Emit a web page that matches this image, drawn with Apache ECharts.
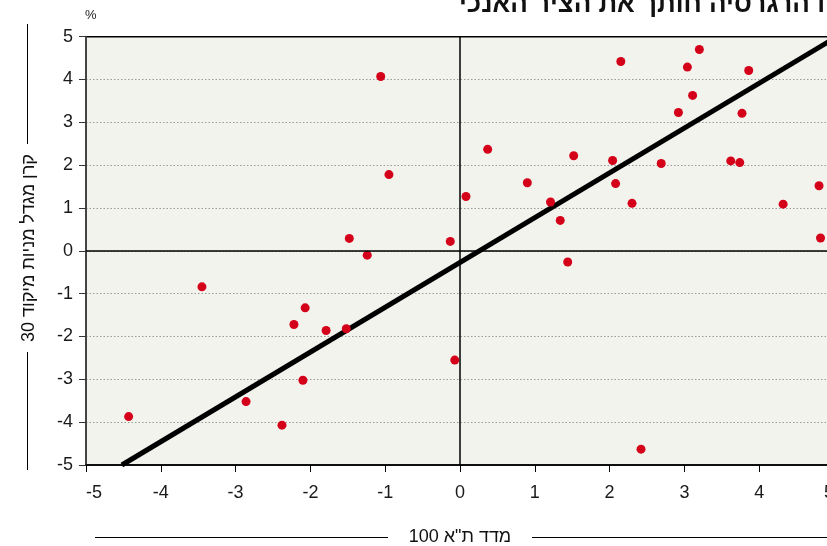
<!DOCTYPE html>
<html>
<head>
<meta charset="utf-8">
<script src="https://cdn.jsdelivr.net/npm/echarts@6/dist/echarts.min.js"></script>
<style>
html,body{margin:0;padding:0;background:#fff;}
#c{width:827px;height:546px;}
</style>
</head>
<body>
<div id="c"></div>
<script>
// Data
const indexTA100 = [-4.43,-3.45,-2.86,-2.38,-2.22,-2.07,-2.10,-1.79,-1.52,-1.48,-1.24,-1.06,-0.95,-0.13,-0.07,0.08,0.37,0.90,1.21,1.34,1.44,1.52,2.04,2.08,2.15,2.30,2.42,2.69,2.92,3.04,3.11,3.20,3.62,3.74,3.77,3.86,4.32,4.80,4.82];
const fundReturn = [-3.87,-0.84,-3.52,-4.07,-1.72,-1.33,-3.02,-1.86,-1.82,0.29,-0.10,4.07,1.78,0.22,-2.55,1.27,2.37,1.59,1.14,0.71,-0.26,2.22,2.11,1.57,4.42,1.11,-4.63,2.04,3.23,4.29,3.63,4.70,2.10,2.06,3.21,4.21,1.09,1.52,0.30];
const regressionX = [-4.52, 5];
const regressionY = [-5, 4.96];
const axisTicks = [-5,-4,-3,-2,-1,0,1,2,3,4,5];

const titleText = 'קו הרגרסיה חותך את הציר האנכי';
const xTitle = '100 מדד ת"א';
const yTitle = '30 קרן מגדל מניות מיקוד';

const scatterData = indexTA100.map((x, i) => [x, fundReturn[i]]);
const lineData = regressionX.map((x, i) => [x, regressionY[i]]);

const chart = echarts.init(document.getElementById('c'), null, {renderer: 'canvas'});
const labelFont = {fontFamily: 'Liberation Sans', fontSize: 18, color: '#1a1a1a'};

chart.setOption({
  animation: false,
  backgroundColor: '#ffffff',
  grid: {
    left: 86, top: 36.7, bottom: 81, right: -7,
    outerBoundsMode: 'none', containLabel: false,
    show: true, backgroundColor: '#f3f3ee', borderColor: '#000', borderWidth: 1.5
  },
  xAxis: {
    type: 'value', min: axisTicks[0], max: axisTicks[axisTicks.length-1], interval: 1,
    axisLine: {onZero: false, lineStyle: {color: '#000', width: 1.5}},
    axisTick: {show: true, length: 7, lineStyle: {color: '#000', width: 1}},
    axisLabel: Object.assign({margin: 19, alignMinLabel: 'left', alignMaxLabel: 'right'}, labelFont),
    splitLine: {show: false}
  },
  yAxis: {
    type: 'value', min: axisTicks[0], max: axisTicks[axisTicks.length-1], interval: 1,
    axisLine: {onZero: false, lineStyle: {color: '#444', width: 2}},
    axisTick: {show: true, length: 7, lineStyle: {color: '#333', width: 1}},
    axisLabel: Object.assign({margin: 13}, labelFont),
    splitLine: {show: true, showMinLine: false, showMaxLine: false, lineStyle: {color: '#9a9a9a', width: 1, type: [1.5, 2]}}
  },
  series: [
    {
      type: 'line', data: [], silent: true, z: 1,
      markLine: {
        silent: true, symbol: 'none', label: {show: false},
        lineStyle: {color: '#000', width: 1.5, type: 'solid'},
        data: [{xAxis: 0}, {yAxis: 0}]
      }
    },
    {
      type: 'line', data: lineData, symbol: 'none', z: 2, silent: true,
      lineStyle: {color: '#000', width: 5}
    },
    {
      type: 'scatter', data: scatterData, symbol: 'circle', symbolSize: 9, z: 3,
      itemStyle: {color: '#d4001a', opacity: 1}
    }
  ],
  graphic: [
    {type: 'text', x: 459, y: 18, style: {text: titleText, font: 'bold 26px "Liberation Sans Narrow", "Liberation Sans", sans-serif', fill: '#111', align: 'left', verticalAlign: 'bottom'}},
    {type: 'text', left: 85, top: 9, style: {text: '%', font: '13px "Liberation Sans", sans-serif', fill: '#222'}},
    {type: 'text', x: 460, y: 537, style: {text: xTitle, font: '18px "Liberation Sans Narrow", "Liberation Sans", sans-serif', fill: '#111', align: 'center', verticalAlign: 'middle'}},
    {type: 'line', shape: {x1: 95, y1: 537.5, x2: 388, y2: 537.5}, style: {stroke: '#000', lineWidth: 1}},
    {type: 'line', shape: {x1: 532, y1: 537.5, x2: 830, y2: 537.5}, style: {stroke: '#000', lineWidth: 1}},
    {type: 'text', x: 29, y: 248, rotation: Math.PI/2, style: {text: yTitle, font: '18px "Liberation Sans Narrow", "Liberation Sans", sans-serif', fill: '#111', align: 'center', verticalAlign: 'middle'}},
    {type: 'line', shape: {x1: 27.5, y1: 24, x2: 27.5, y2: 144}, style: {stroke: '#000', lineWidth: 1}},
    {type: 'line', shape: {x1: 27.5, y1: 352, x2: 27.5, y2: 470}, style: {stroke: '#000', lineWidth: 1}}
  ]
});
</script>
</body>
</html>
